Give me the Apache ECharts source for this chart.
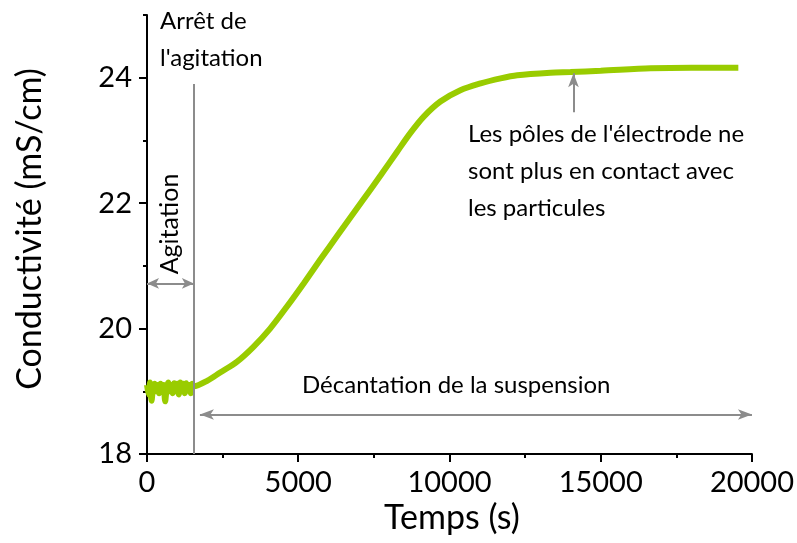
<!DOCTYPE html>
<html>
<head>
<meta charset="utf-8">
<script src="https://cdn.jsdelivr.net/npm/echarts@6/dist/echarts.min.js"></script>
<style>
  html, body { margin: 0; padding: 0; background: #fff; }
  #chart { width: 797px; height: 543px; }
</style>
</head>
<body>
<div id="chart"></div>
<script>
// temps (s) et conductivité (mS/cm)
var temps = [0, 50, 100, 150, 200, 250, 300, 350, 400, 450, 500, 550, 600, 650, 700, 750,
  800, 850, 900, 950, 1000, 1050, 1100, 1150, 1200, 1250, 1300, 1350, 1400, 1450, 1500, 1550,
  2000, 2420, 2970, 3520, 4070, 4640, 5180, 5730, 6290, 7110, 7720, 8270, 8710, 9150, 9700,
  10360, 11030, 11690, 12240, 13340, 14000, 15000, 16650, 18000, 19550];
var conductivite = [19.10, 18.95, 19.14, 18.85, 19.06, 19.12, 19.00, 19.10, 18.97, 19.12, 19.02, 19.10, 18.84, 19.05, 19.14, 19.00,
  19.10, 18.97, 19.13, 19.02, 19.12, 18.95, 19.14, 19.00, 19.12, 18.97, 19.13, 19.02, 19.10, 18.97, 19.12, 19.08,
  19.17, 19.30, 19.47, 19.71, 20.00, 20.36, 20.72, 21.10, 21.48, 22.03, 22.44, 22.82, 23.12, 23.38, 23.62,
  23.80, 23.91, 23.99, 24.04, 24.08, 24.09, 24.11, 24.15, 24.16, 24.16];

var arretAgitation = 1550;
var yTicksMajeurs = [18, 20, 22, 24];

var points = temps.map(function (t, i) { return [t, conductivite[i]]; });
var gris = '#8c8c8c';
var police = 'Lato';

var myChart = echarts.init(document.getElementById('chart'));

var option = {
  animation: false,
  grid: { left: 147, right: 45, top: 15, bottom: 89 },
  xAxis: {
    type: 'value',
    min: 0, max: 20000, interval: 5000,
    axisLine: { lineStyle: { color: '#000', width: 2 } },
    axisTick: { length: 8, lineStyle: { color: '#000', width: 2 } },
    minorTick: { show: true, splitNumber: 2, length: 4, lineStyle: { color: '#000', width: 2 } },
    splitLine: { show: false },
    axisLabel: {
      color: '#000', fontSize: 29, fontFamily: police, margin: 14,
      formatter: function (v) { return String(v); }
    }
  },
  yAxis: [{
    type: 'value',
    min: 18, max: 25, interval: 1,
    axisLine: { show: true, lineStyle: { color: '#000', width: 2 } },
    axisTick: { show: true, length: 4, lineStyle: { color: '#000', width: 2 } },
    splitLine: { show: false },
    axisLabel: {
      color: '#000', fontSize: 29, fontFamily: police, margin: 15,
      formatter: function (v) { return yTicksMajeurs.indexOf(v) >= 0 ? String(v) : ''; }
    }
  }, {
    type: 'value',
    position: 'left',
    min: 18, max: 25,
    axisLine: { show: false },
    axisTick: { show: true, length: 8, customValues: yTicksMajeurs, lineStyle: { color: '#000', width: 2 } },
    axisLabel: { show: false },
    splitLine: { show: false }
  }],
  series: [{
    type: 'line',
    data: points,
    smooth: 0.3,
    showSymbol: false,
    lineStyle: { color: '#99cc00', width: 6 },
    z: 3
  }, {
    type: 'line',
    data: [],
    markLine: {
      silent: true,
      animation: false,
      label: { show: false },
      lineStyle: { color: gris, width: 2, type: 'solid' },
      data: [
        [{ coord: [arretAgitation, 18], symbol: 'none' }, { coord: [arretAgitation, 23.9], symbol: 'none' }],
        [{ coord: [0, 20.72], symbol: 'arrow', symbolSize: [8, 12] }, { coord: [arretAgitation, 20.72], symbol: 'arrow', symbolSize: [8, 12] }],
        [{ coord: [1750, 18.63], symbol: 'arrow', symbolSize: [8, 14] }, { coord: [20000, 18.63], symbol: 'arrow', symbolSize: [8, 14] }],
        [{ coord: [14100, 23.45], symbol: 'none' }, { coord: [14100, 24.07], symbol: 'arrow', symbolSize: [8, 14] }]
      ]
    }
  }],
  graphic: [
    { type: 'text', left: 160, top: 9, style: { text: 'Arrêt de', font: '24px ' + police, fill: '#000' } },
    { type: 'text', left: 160, top: 46, style: { text: "l'agitation", font: '24px ' + police, fill: '#000' } },
    { type: 'text', x: 170, y: 224, rotation: Math.PI / 2,
      style: { text: 'Agitation', font: '25px ' + police, fill: '#000', align: 'center', verticalAlign: 'middle' } },
    { type: 'text', left: 468, top: 122, style: { text: "Les pôles de l'électrode ne", font: '24px ' + police, fill: '#000' } },
    { type: 'text', left: 468, top: 159, style: { text: 'sont plus en contact avec', font: '24px ' + police, fill: '#000' } },
    { type: 'text', left: 468, top: 196, style: { text: 'les particules', font: '24px ' + police, fill: '#000' } },
    { type: 'text', left: 302, top: 373, style: { text: 'Décantation de la suspension', font: '24px ' + police, fill: '#000' } },
    { type: 'text', x: 452, y: 518, style: { text: 'Temps (s)', font: '34px ' + police, fill: '#000', align: 'center', verticalAlign: 'middle' } },
    { type: 'text', x: 30, y: 229, rotation: Math.PI / 2,
      style: { text: 'Conductivité (mS/cm)', font: '34px ' + police, fill: '#000', align: 'center', verticalAlign: 'middle' } }
  ]
};

myChart.setOption(option);
</script>
</body>
</html>
